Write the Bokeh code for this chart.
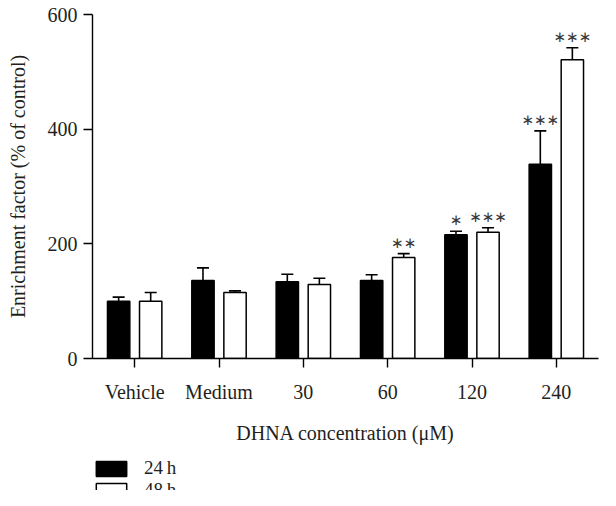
from bokeh.plotting import figure
from bokeh.models import (ColumnDataSource, FactorRange, Range1d, Whisker,
                          Legend, LegendItem, FixedTicker)
from bokeh.layouts import column
from bokeh.transform import dodge
from bokeh.core.properties import value
from bokeh.embed import file_html
from bokeh.resources import INLINE

categories = ["Vehicle", "Medium", "30", "60", "120", "240"]
mean_24h = [100, 136, 134, 136, 216, 339]
err_24h = [7, 22, 13, 10, 6, 58]
mean_48h = [100, 115, 129, 176, 220, 521]
err_48h = [15, 3, 11, 7, 8, 21]
stars_24h = ["", "", "", "", "\u2217", "\u2217\u2217\u2217"]
stars_48h = ["", "", "", "\u2217\u2217", "\u2217\u2217\u2217", "\u2217\u2217\u2217"]
y_ticks = [0, 200, 400, 600]
series_labels = ["24\u2009h", "48\u2009h"]

FONT = "Liberation Serif"
TXT = "#231f20"

def make_source(means, errs, stars):
    return ColumnDataSource(dict(
        cat=categories, top=means,
        upper=[m + e for m, e in zip(means, errs)],
        lower=[m - e for m, e in zip(means, errs)],
        stars=stars))

s24 = make_source(mean_24h, err_24h, stars_24h)
s48 = make_source(mean_48h, err_48h, stars_48h)

xr = FactorRange(*categories, range_padding=0)
p = figure(x_range=xr, y_range=Range1d(0, 600),
           width=600, height=450, output_backend="svg", toolbar_location=None,
           min_border_left=92, min_border_right=2, min_border_top=14,
           min_border_bottom=92)

off = 0.19
bw = 0.265
bar_styles = [dict(fill_color="black", line_color="black", line_width=1.5),
              dict(fill_color="white", line_color="black", line_width=1.5)]

for src, o, st in ((s24, -off, bar_styles[0]), (s48, off, bar_styles[1])):
    p.vbar(x=dodge("cat", o, range=xr), top="top", bottom=0, width=bw,
           source=src, **st)

for src, o in ((s24, -off), (s48, off)):
    w = Whisker(base=dodge("cat", o, range=xr), upper="upper", lower="lower",
                source=src, line_color="black", line_width=1.6, dimension="height")
    for h in (w.upper_head, w.lower_head):
        h.size = 12
        h.line_width = 1.6
        h.line_color = "black"
    p.add_layout(w)
    p.text(x=dodge("cat", o, range=xr), y="upper", text="stars", source=src,
           text_font=value("DejaVu Sans"), text_font_size="15px", text_color="#3a3a3a",
           text_align="center", text_baseline="middle", y_offset=-11)

p.xgrid.visible = False
p.ygrid.visible = False
p.outline_line_color = None

for ax in (p.xaxis, p.yaxis):
    ax.axis_line_color = "black"
    ax.axis_line_width = 1.4
    ax.major_tick_line_color = "black"
    ax.major_tick_line_width = 1.4
    ax.major_tick_out = 9
    ax.major_tick_in = 0
    ax.minor_tick_line_color = None
    ax.major_label_text_font = FONT
    ax.major_label_text_font_size = "20px"
    ax.major_label_text_color = TXT
    ax.axis_label_text_font = FONT
    ax.axis_label_text_font_size = "20px"
    ax.axis_label_text_font_style = "normal"
    ax.axis_label_text_color = TXT

p.yaxis.ticker = FixedTicker(ticks=y_ticks)
p.yaxis.axis_label = "Enrichment factor (% of control)"
p.yaxis.major_label_standoff = 6
p.yaxis.axis_label_standoff = 16
p.xaxis.axis_label = "DHNA concentration (μM)"
p.xaxis.major_label_standoff = 13
p.xaxis.axis_label_standoff = 16

# legend strip below the chart; its renderers are zero-size (draw nothing)
pl = figure(width=600, height=40, output_backend="svg", toolbar_location=None,
            x_range=xr, y_range=Range1d(0, 600),
            min_border_left=0, min_border_right=0,
            min_border_top=0, min_border_bottom=0)
pl.axis.visible = False
pl.outline_line_color = None
pl.xgrid.visible = False
pl.ygrid.visible = False
lr = [pl.vbar(x="cat", top=0, bottom=0, width=0, source=src, **st)
      for src, st in ((s24, bar_styles[0]), (s48, bar_styles[1]))]
legend = Legend(items=[LegendItem(label=lab, renderers=[r])
                       for lab, r in zip(series_labels, lr)],
                location=(0, -11), orientation="vertical",
                glyph_width=38, glyph_height=19, label_height=19,
                label_standoff=14, spacing=0, padding=0, margin=0,
                border_line_color=None, background_fill_alpha=0,
                label_text_font=FONT, label_text_font_size="19px",
                label_text_color=TXT)
pl.add_layout(legend)

layout = column(p, pl, spacing=0)
open("out.html", "w").write(file_html(layout, INLINE))
